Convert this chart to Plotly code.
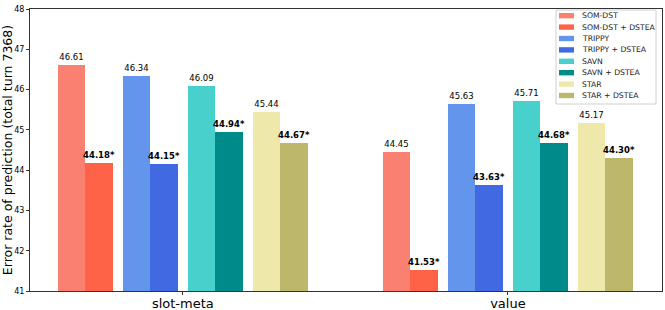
import plotly.graph_objects as go

groups = ["slot-meta", "value"]
series = ["SOM-DST", "SOM-DST + DSTEA", "TRIPPY", "TRIPPY + DSTEA",
          "SAVN", "SAVN + DSTEA", "STAR", "STAR + DSTEA"]
values = {
    "SOM-DST": [46.61, 44.45],
    "SOM-DST + DSTEA": [44.18, 41.53],
    "TRIPPY": [46.34, 45.63],
    "TRIPPY + DSTEA": [44.15, 43.63],
    "SAVN": [46.09, 45.71],
    "SAVN + DSTEA": [44.94, 44.68],
    "STAR": [45.44, 45.17],
    "STAR + DSTEA": [44.67, 44.30],
}
colors = ["#FA8072", "#FF6347", "#6495ED", "#4169E1",
          "#48D1CC", "#008B8B", "#EEE8AA", "#BDB76B"]

W, H = 665, 310
ML, MR, MT, MB = 30, 3, 9, 19
PW, PH = W - ML - MR, H - MT - MB

def px(x):
    return (x - ML) / PW

def py(y):
    return 1 - (y - MT) / PH

bw = 0.085
fig = go.Figure()
for i, s in enumerate(series):
    pair = i // 2
    off = (pair - 1.5) * 0.2 + (-0.5 if i % 2 == 0 else 0.5) * bw
    xs = [g + off for g in range(len(groups))]
    bold = i % 2 == 1
    texts = [f"<b>{v:.2f}*</b>" if bold else f"{v:.2f}" for v in values[s]]
    fig.add_trace(go.Bar(
        x=xs, y=values[s], width=bw, name=s,
        marker=dict(color=colors[i], line=dict(width=0)),
        text=texts, textposition="outside", cliponaxis=False,
        constraintext="none",
        textfont=dict(size=8.5, color="black", family="DejaVu Sans"),
        showlegend=False, hoverinfo="skip",
    ))

# custom compact legend (matplotlib style)
shapes = [dict(type="rect", xref="paper", yref="paper",
               x0=px(556), x1=px(656), y0=py(104), y1=py(10),
               fillcolor="white", line=dict(color="#d0d0d0", width=1), layer="above")]
annotations = []
for i, s in enumerate(series):
    yc = 15.7 + i * 11.4
    shapes.append(dict(type="rect", xref="paper", yref="paper",
                       x0=px(559), x1=px(574), y0=py(yc + 2.7), y1=py(yc - 2.7),
                       fillcolor=colors[i], line=dict(width=0), layer="above"))
    annotations.append(dict(xref="paper", yref="paper", x=px(581), y=py(yc),
                            text=s, showarrow=False, xanchor="left", yanchor="middle",
                            font=dict(size=7.7, color="#222", family="DejaVu Sans"),
                            borderpad=0))

fig.update_layout(
    width=W, height=H,
    margin=dict(l=ML, r=MR, t=MT, b=MB),
    plot_bgcolor="white", paper_bgcolor="white",
    barmode="overlay", bargap=0,
    font=dict(family="DejaVu Sans", color="black"),
    showlegend=False,
    shapes=shapes, annotations=annotations,
)
fig.update_xaxes(
    range=[-0.47, 1.474], tickmode="array", tickvals=[0, 1], ticktext=groups,
    tickfont=dict(size=13), ticks="outside", ticklen=3, tickcolor="#333",
    ticklabelstandoff=-3, automargin=False,
    showline=True, linecolor="#333", linewidth=1, mirror=True, showgrid=False,
    zeroline=False,
)
fig.update_yaxes(
    range=[41, 48], dtick=1, tickfont=dict(size=8), ticks="outside", ticklen=3,
    tickcolor="#333", showline=True, linecolor="#333", linewidth=1, mirror=True,
    showgrid=False, zeroline=False, automargin=False,
    title=dict(text="Error rate of prediction (total turn 7368)", font=dict(size=12.5), standoff=1),
)
fig.write_html(
    "out.html",
    config={"displayModeBar": False},
    post_script="document.body.style.margin='0';document.body.style.overflow='hidden';",
)
